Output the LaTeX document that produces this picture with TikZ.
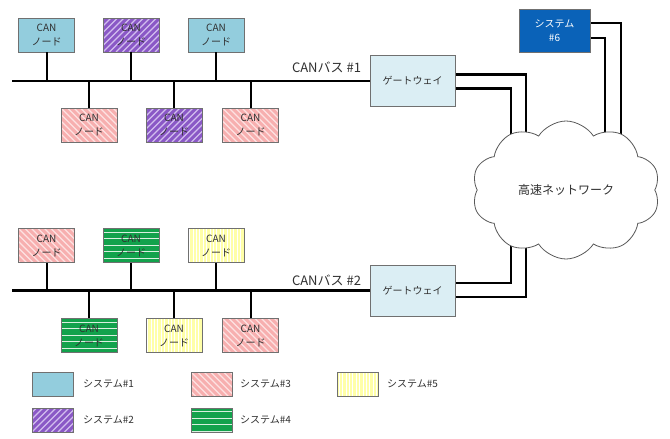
\documentclass[tikz,border=0pt]{standalone}
\usepackage{fontspec}
\setmainfont{Noto Sans CJK JP}
\usetikzlibrary{shapes.symbols,backgrounds,calc}
\definecolor{sOne}{HTML}{93CDDD}
\definecolor{sTwo}{HTML}{8A58C6}
\definecolor{sTwoL}{HTML}{D2BEEE}
\definecolor{sThree}{HTML}{F7AFAF}
\definecolor{sThreeL}{HTML}{FDE2E2}
\definecolor{sFour}{HTML}{12A24C}
\definecolor{sFourL}{HTML}{D8F0DF}
\definecolor{sFive}{HTML}{FFFFA8}
\definecolor{sSix}{HTML}{0A62B8}
\definecolor{gwfill}{HTML}{DBEEF4}
\definecolor{edge}{HTML}{707070}
\definecolor{txt}{HTML}{303030}
\begin{document}
\begin{tikzpicture}[x=1pt,y=-1pt,
  every node/.style={font=\fontsize{10}{14}\selectfont, text=txt, inner sep=0pt},
  canbox/.style={draw=edge, line width=0.8pt, minimum width=56pt, minimum height=34pt, align=center},
  legbox/.style={draw=edge, line width=0.8pt, minimum width=41pt, minimum height=24pt},
  sysA/.style={fill=sOne},
  sysB/.style={fill=sTwo, path picture={
      \foreach \k in {-78,-71.5,...,80}
        \draw[sTwoL, line width=1.1pt] ([xshift=\k pt]path picture bounding box.south west) -- ++(80,-80);}},
  sysC/.style={fill=sThree, path picture={
      \foreach \k in {-78,-71.5,...,80}
        \draw[sThreeL, line width=1.1pt] ([xshift=\k pt]path picture bounding box.north west) -- ++(80,80);}},
  sysD/.style={fill=sFour, path picture={
      \foreach \k in {3.5,10,...,40}
        \draw[sFourL, line width=1pt] ([yshift=-\k pt]path picture bounding box.north west) -- ([yshift=-\k pt]path picture bounding box.north east);}},
  sysE/.style={fill=sFive, path picture={
      \foreach \k in {1.7,5.1,...,60}
        \draw[white, line width=1pt] ([xshift=\k pt]path picture bounding box.north west) -- ([xshift=\k pt]path picture bounding box.south west);}},
  gwbox/.style={draw=edge, line width=0.8pt, fill=gwfill, minimum width=85pt, minimum height=51pt},
  bus/.style={line width=2.4pt, black},
  stub/.style={line width=2pt, black},
  link/.style={line width=2.4pt, black},
  leg/.style={anchor=west}
]
\useasboundingbox (0,0) rectangle (670,439);

% ---- Bus 1 ----
\node[gwbox] (gw1) at (412.5,81) {ゲートウェイ};
\coordinate (b1L) at (12,81);
\draw[bus] (b1L) -- (gw1.west);
\node (lab1) at (326.5,67) {\fontsize{13}{15}\selectfont CANバス \#1};

\node[canbox,sysA] (a1) at (46.5,35) {CAN\\ノード};
\node[canbox,sysB] (a2) at (131,35) {CAN\\ノード};
\node[canbox,sysA] (a3) at (216,35) {CAN\\ノード};
\node[canbox,sysC] (a4) at (89,125) {CAN\\ノード};
\node[canbox,sysB] (a5) at (174,125) {CAN\\ノード};
\node[canbox,sysC] (a6) at (250.5,125) {CAN\\ノード};
\foreach \n in {a1,a2,a3,a4,a5,a6}
  \draw[stub] (\n) -- (\n |- b1L);

% ---- Bus 2 ----
\node[gwbox] (gw2) at (412.5,290.5) {ゲートウェイ};
\coordinate (b2L) at (12,290.5);
\draw[bus] (b2L) -- (gw2.west);
\node (lab2) at (326.5,280) {\fontsize{13}{15}\selectfont CANバス \#2};

\node[canbox,sysC] (c1) at (46.5,245.5) {CAN\\ノード};
\node[canbox,sysD] (c2) at (131,245.5) {CAN\\ノード};
\node[canbox,sysE] (c3) at (216,245.5) {CAN\\ノード};
\node[canbox,sysD] (c4) at (89,335.5) {CAN\\ノード};
\node[canbox,sysE] (c5) at (174,335.5) {CAN\\ノード};
\node[canbox,sysC] (c6) at (250.5,335.5) {CAN\\ノード};
\foreach \n in {c1,c2,c3,c4,c5,c6}
  \draw[stub] (\n) -- (\n |- b2L);

% ---- System 6 ----
\node[draw=edge, line width=0.8pt, fill=sSix, minimum width=71pt, minimum height=43pt, align=center, text=white] (s6) at (554.5,30.5) {システム\\\#6};

% ---- Cloud ----
\node[cloud, cloud puffs=10, cloud puff arc=115, aspect=1.36, draw=black!65, line width=0.8pt, fill=white,
      minimum width=188pt, minimum height=138pt] (net) at (566,190) {\fontsize{12}{14}\selectfont 高速ネットワーク};

\begin{pgfonlayer}{background}
  \draw[link] (gw1.east) ++(0,-6.5) -| ($(net.center)+(-40,0)$);
  \draw[link] (gw1.east) ++(0,7.5) -| ($(net.center)+(-55,0)$);
  \draw[link] (gw2.east) ++(0,-7.5) -| ($(net.center)+(-55,0)$);
  \draw[link] (gw2.east) ++(0,6.5) -| ($(net.center)+(-40,0)$);
  \draw[link] (s6.east) ++(0,-7.5) -| ($(net.center)+(55,0)$);
  \draw[link] (s6.east) ++(0,7.5) -| ($(net.center)+(39,0)$);
\end{pgfonlayer}

% ---- Legend ----
\node[legbox,sysA] (l1) at (52.5,384) {};
\node[leg] (t1) at (83,384) {システム\#1};
\node[legbox,sysC] (l3) at (211.5,384) {};
\node[leg] (t3) at (240,384) {システム\#3};
\node[legbox,sysE] (l5) at (358,384) {};
\node[leg] (t5) at (387,384) {システム\#5};
\node[legbox,sysB] (l2) at (52.5,420) {};
\node[leg] (t2) at (83,420) {システム\#2};
\node[legbox,sysD] (l4) at (211.5,420) {};
\node[leg] (t4) at (240,420) {システム\#4};
\end{tikzpicture}
\end{document}
